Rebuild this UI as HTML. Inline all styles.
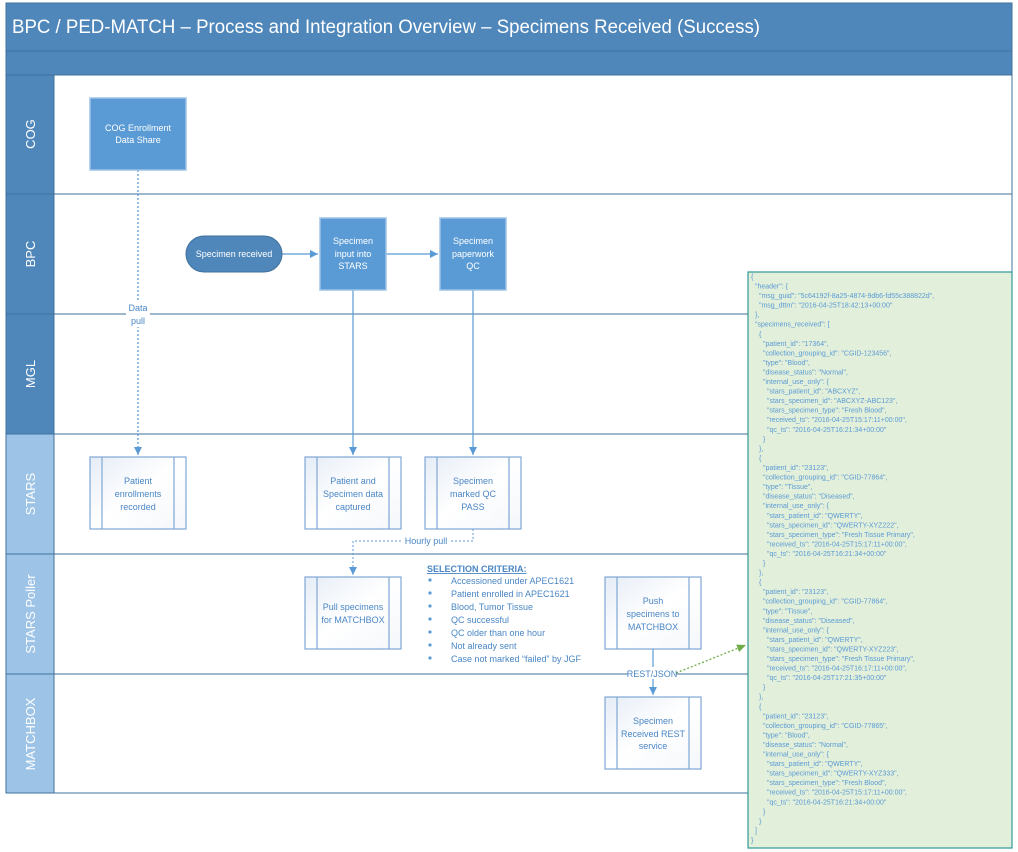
<!DOCTYPE html>
<html><head><meta charset="utf-8"><style>
html,body{margin:0;padding:0;background:#fff;}
svg{display:block;font-family:"Liberation Sans",sans-serif;}
.w{fill:#fff;font-size:9px;text-anchor:middle;}
.b{fill:#4a86c5;font-size:9px;text-anchor:middle;}
.lane{fill:#fff;font-size:13px;text-anchor:middle;}
.j{fill:#5b9bd5;font-size:7px;white-space:pre;}
.c{fill:#4a86c5;font-size:9px;}
</style></head><body>
<svg width="1018" height="852" viewBox="0 0 1018 852" xmlns="http://www.w3.org/2000/svg">
<defs>
<marker id="a" markerWidth="10" markerHeight="10" refX="8" refY="4" orient="auto" markerUnits="userSpaceOnUse"><path d="M0,0 L8,4 L0,8 Z" fill="#5b9bd5"/></marker>
<marker id="g" markerWidth="12" markerHeight="10" refX="9" refY="4" orient="auto" markerUnits="userSpaceOnUse"><path d="M0,0 L9,4 L0,8 Z" fill="#70ad47"/></marker>
<linearGradient id="sp" x1="0" y1="0" x2="1" y2="1"><stop offset="0" stop-color="#e6edf7"/><stop offset="0.5" stop-color="#ffffff"/><stop offset="1" stop-color="#f4f7fb"/></linearGradient>
</defs>
<rect x="6" y="3" width="1006" height="48" fill="#4f87bb" stroke="#41719c"/>
<text x="12" y="33" fill="#fff" font-size="19" textLength="748" lengthAdjust="spacingAndGlyphs">BPC / PED-MATCH – Process and Integration Overview – Specimens Received (Success)</text>
<rect x="6" y="51" width="1006" height="24" fill="#4f87bb" stroke="#41719c"/>
<g stroke="#41719c" stroke-width="1">
<rect x="54" y="75" width="958" height="119" fill="#fff"/>
<rect x="54" y="194" width="958" height="120" fill="#fff"/>
<rect x="54" y="314" width="958" height="120" fill="#fff"/>
<rect x="54" y="434" width="958" height="120" fill="#fff"/>
<rect x="54" y="554" width="958" height="120" fill="#fff"/>
<rect x="54" y="674" width="958" height="119" fill="#fff"/>
<rect x="6" y="75" width="48" height="119" fill="#4f87bb"/>
<rect x="6" y="194" width="48" height="120" fill="#4f87bb"/>
<rect x="6" y="314" width="48" height="120" fill="#4f87bb"/>
<rect x="6" y="434" width="48" height="120" fill="#9dc3e6"/>
<rect x="6" y="554" width="48" height="120" fill="#9dc3e6"/>
<rect x="6" y="674" width="48" height="119" fill="#9dc3e6"/>
</g>
<text class="lane" transform="translate(35,134) rotate(-90)">COG</text>
<text class="lane" transform="translate(35,254) rotate(-90)">BPC</text>
<text class="lane" transform="translate(35,374) rotate(-90)">MGL</text>
<text class="lane" transform="translate(35,494) rotate(-90)">STARS</text>
<text class="lane" transform="translate(35,614) rotate(-90)">STARS Poller</text>
<text class="lane" transform="translate(35,734) rotate(-90)">MATCHBOX</text>

<line x1="138" y1="170" x2="138" y2="455" stroke="#5b9bd5" stroke-width="1.3" stroke-dasharray="2,2" marker-end="url(#a)"/>
<rect x="126" y="301" width="24" height="26" fill="#fff"/>
<text class="b" x="138" y="311">Data</text>
<text class="b" x="138" y="324">pull</text>
<line x1="282" y1="254" x2="318" y2="254" stroke="#5b9bd5" stroke-width="1.2" marker-end="url(#a)"/>
<line x1="386" y1="254" x2="438" y2="254" stroke="#5b9bd5" stroke-width="1.2" marker-end="url(#a)"/>
<line x1="353" y1="290" x2="353" y2="455" stroke="#5b9bd5" stroke-width="1.2" marker-end="url(#a)"/>
<line x1="473" y1="290" x2="473" y2="455" stroke="#5b9bd5" stroke-width="1.2" marker-end="url(#a)"/>
<path d="M473,529 V541 H353 V575" fill="none" stroke="#5b9bd5" stroke-width="1" stroke-dasharray="2,2" marker-end="url(#a)"/>
<rect x="402" y="535" width="48" height="12" fill="#fff"/>
<text class="b" x="426" y="544">Hourly pull</text>
<line x1="653" y1="649" x2="653" y2="695" stroke="#5b9bd5" stroke-width="1.2" marker-end="url(#a)"/>
<line x1="676" y1="673" x2="746" y2="645" stroke="#70ad47" stroke-width="1.3" stroke-dasharray="2,2" marker-end="url(#g)"/>
<rect x="628" y="667" width="48" height="12" fill="#fff"/>
<text class="b" x="652" y="677">REST/JSON</text>

<g stroke="#9dc3e6" stroke-width="1.5" fill="#5b9bd5">
<rect x="90" y="98" width="96" height="72"/>
<rect x="320" y="218" width="66" height="72"/>
<rect x="440" y="218" width="66" height="72"/>
</g>
<rect x="186" y="236" width="96" height="36" rx="18" fill="#4f87bb" stroke="#41719c"/>
<text class="w" x="138" y="131">COG Enrollment</text>
<text class="w" x="138" y="143">Data Share</text>
<text class="w" x="234" y="257">Specimen received</text>
<text class="w" x="353" y="244">Specimen</text>
<text class="w" x="353" y="257">input into</text>
<text class="w" x="353" y="269">STARS</text>
<text class="w" x="473" y="244">Specimen</text>
<text class="w" x="473" y="257">paperwork</text>
<text class="w" x="473" y="269">QC</text>

<g stroke="#7fa7d4" stroke-width="1.2" fill="url(#sp)">
<rect x="90" y="457" width="96" height="72"/><line x1="102" y1="457" x2="102" y2="529"/><line x1="174" y1="457" x2="174" y2="529"/>
<rect x="305" y="457" width="96" height="72"/><line x1="317" y1="457" x2="317" y2="529"/><line x1="389" y1="457" x2="389" y2="529"/>
<rect x="425" y="457" width="96" height="72"/><line x1="437" y1="457" x2="437" y2="529"/><line x1="509" y1="457" x2="509" y2="529"/>
<rect x="305" y="577" width="96" height="72"/><line x1="317" y1="577" x2="317" y2="649"/><line x1="389" y1="577" x2="389" y2="649"/>
<rect x="605" y="577" width="96" height="72"/><line x1="617" y1="577" x2="617" y2="649"/><line x1="689" y1="577" x2="689" y2="649"/>
<rect x="605" y="697" width="96" height="72"/><line x1="617" y1="697" x2="617" y2="769"/><line x1="689" y1="697" x2="689" y2="769"/>
</g>
<text class="b" x="138" y="484">Patient</text>
<text class="b" x="138" y="497">enrollments</text>
<text class="b" x="138" y="510">recorded</text>
<text class="b" x="353" y="484">Patient and</text>
<text class="b" x="353" y="497">Specimen data</text>
<text class="b" x="353" y="510">captured</text>
<text class="b" x="473" y="484">Specimen</text>
<text class="b" x="473" y="497">marked QC</text>
<text class="b" x="473" y="510">PASS</text>
<text class="b" x="353" y="610">Pull specimens</text>
<text class="b" x="353" y="623">for MATCHBOX</text>
<text class="b" x="653" y="604">Push</text>
<text class="b" x="653" y="617">specimens to</text>
<text class="b" x="653" y="630">MATCHBOX</text>
<text class="b" x="653" y="724">Specimen</text>
<text class="b" x="653" y="737">Received REST</text>
<text class="b" x="653" y="749">service</text>

<text class="c" x="427" y="572" font-weight="bold" text-decoration="underline">SELECTION CRITERIA:</text>
<g fill="#5b9bd5">
<circle cx="430" cy="580" r="1.6"/><circle cx="430" cy="593" r="1.6"/><circle cx="430" cy="606" r="1.6"/><circle cx="430" cy="619" r="1.6"/><circle cx="430" cy="632" r="1.6"/><circle cx="430" cy="645" r="1.6"/><circle cx="430" cy="658" r="1.6"/>
</g>
<text class="c" x="451" y="584">Accessioned under APEC1621</text>
<text class="c" x="451" y="597">Patient enrolled in APEC1621</text>
<text class="c" x="451" y="610">Blood, Tumor Tissue</text>
<text class="c" x="451" y="623">QC successful</text>
<text class="c" x="451" y="636">QC older than one hour</text>
<text class="c" x="451" y="649">Not already sent</text>
<text class="c" x="451" y="662">Case not marked “failed” by JGF</text>

<rect x="748" y="272" width="264" height="576" fill="#e2efda" stroke="#2e9a96" stroke-width="1.2"/>
<g transform="translate(0,279) scale(1,1.016) translate(0,-279)">
<text class="j" x="751" y="279">{</text>
<text class="j" x="755" y="288.4">"header": {</text>
<text class="j" x="759" y="297.8">"msg_guid": "5c64192f-8a25-4874-9db6-fd55c388822d",</text>
<text class="j" x="759" y="307.2">"msg_dttm": "2016-04-25T18:42:13+00:00"</text>
<text class="j" x="755" y="316.6">},</text>
<text class="j" x="755" y="326">"specimens_received": [</text>
<text class="j" x="759" y="335.4">{</text>
<text class="j" x="763" y="344.8">"patient_id": "17364",</text>
<text class="j" x="763" y="354.2">"collection_grouping_id": "CGID-123456",</text>
<text class="j" x="763" y="363.6">"type": "Blood",</text>
<text class="j" x="763" y="373">"disease_status": "Normal",</text>
<text class="j" x="763" y="382.4">"internal_use_only": {</text>
<text class="j" x="767" y="391.8">"stars_patient_id": "ABCXYZ",</text>
<text class="j" x="767" y="401.2">"stars_specimen_id": "ABCXYZ-ABC123",</text>
<text class="j" x="767" y="410.6">"stars_specimen_type": "Fresh Blood",</text>
<text class="j" x="767" y="420">"received_ts": "2016-04-25T15:17:11+00:00",</text>
<text class="j" x="767" y="429.4">"qc_ts": "2016-04-25T16:21:34+00:00"</text>
<text class="j" x="763" y="438.8">}</text>
<text class="j" x="759" y="448.2">},</text>
<text class="j" x="759" y="457.6">{</text>
<text class="j" x="763" y="467">"patient_id": "23123",</text>
<text class="j" x="763" y="476.4">"collection_grouping_id": "CGID-77864",</text>
<text class="j" x="763" y="485.8">"type": "Tissue",</text>
<text class="j" x="763" y="495.2">"disease_status": "Diseased",</text>
<text class="j" x="763" y="504.6">"internal_use_only": {</text>
<text class="j" x="767" y="514">"stars_patient_id": "QWERTY",</text>
<text class="j" x="767" y="523.4">"stars_specimen_id": "QWERTY-XYZ222",</text>
<text class="j" x="767" y="532.8">"stars_specimen_type": "Fresh Tissue Primary",</text>
<text class="j" x="767" y="542.2">"received_ts": "2016-04-25T15:17:11+00:00",</text>
<text class="j" x="767" y="551.6">"qc_ts": "2016-04-25T16:21:34+00:00"</text>
<text class="j" x="763" y="561">}</text>
<text class="j" x="759" y="570.4">},</text>
<text class="j" x="759" y="579.8">{</text>
<text class="j" x="763" y="589.2">"patient_id": "23123",</text>
<text class="j" x="763" y="598.6">"collection_grouping_id": "CGID-77864",</text>
<text class="j" x="763" y="608">"type": "Tissue",</text>
<text class="j" x="763" y="617.4">"disease_status": "Diseased",</text>
<text class="j" x="763" y="626.8">"internal_use_only": {</text>
<text class="j" x="767" y="636.2">"stars_patient_id": "QWERTY",</text>
<text class="j" x="767" y="645.6">"stars_specimen_id": "QWERTY-XYZ223",</text>
<text class="j" x="767" y="655">"stars_specimen_type": "Fresh Tissue Primary",</text>
<text class="j" x="767" y="664.4">"received_ts": "2016-04-25T16:17:11+00:00",</text>
<text class="j" x="767" y="673.8">"qc_ts": "2016-04-25T17:21:35+00:00"</text>
<text class="j" x="763" y="683.2">}</text>
<text class="j" x="759" y="692.6">},</text>
<text class="j" x="759" y="702">{</text>
<text class="j" x="763" y="711.4">"patient_id": "23123",</text>
<text class="j" x="763" y="720.8">"collection_grouping_id": "CGID-77865",</text>
<text class="j" x="763" y="730.2">"type": "Blood",</text>
<text class="j" x="763" y="739.6">"disease_status": "Normal",</text>
<text class="j" x="763" y="749">"internal_use_only": {</text>
<text class="j" x="767" y="758.4">"stars_patient_id": "QWERTY",</text>
<text class="j" x="767" y="767.8">"stars_specimen_id": "QWERTY-XYZ333",</text>
<text class="j" x="767" y="777.2">"stars_specimen_type": "Fresh Blood",</text>
<text class="j" x="767" y="786.6">"received_ts": "2016-04-25T15:17:11+00:00",</text>
<text class="j" x="767" y="796">"qc_ts": "2016-04-25T16:21:34+00:00"</text>
<text class="j" x="763" y="805.4">}</text>
<text class="j" x="759" y="814.8">}</text>
<text class="j" x="755" y="824.2">]</text>
<text class="j" x="751" y="833.6">}</text>
</g>
</svg>
</body></html>
